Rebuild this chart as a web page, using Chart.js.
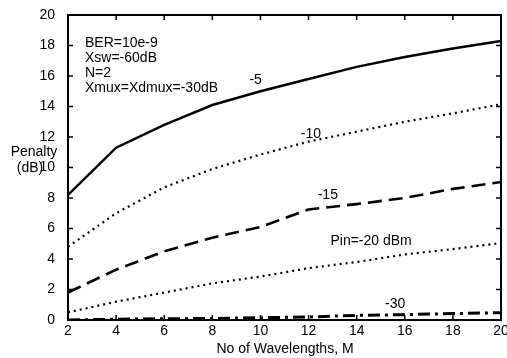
<!DOCTYPE html>
<html><head><meta charset="utf-8">
<script src="https://cdn.jsdelivr.net/npm/chart.js@4/dist/chart.umd.min.js"></script>
<style>html,body{margin:0;padding:0;background:#fff}#wrap{width:507px;height:358px;position:relative}</style>
</head><body><div id="wrap"><canvas id="c" width="507" height="358"></canvas></div>
<script>
const wavelengths = [2,4,6,8,10,12,14,16,18,20];
const pinM5  = [8.2,11.3,12.8,14.1,15.0,15.8,16.6,17.25,17.8,18.3];
const pinM10 = [4.8,7.0,8.7,9.9,10.85,11.7,12.35,13.0,13.55,14.15];
const pinM15 = [1.8,3.3,4.5,5.4,6.1,7.25,7.6,8.0,8.6,9.05];
const pinM20 = [0.5,1.2,1.8,2.4,2.85,3.4,3.8,4.3,4.65,5.05];
const pinM30 = [0.0,0.05,0.08,0.1,0.15,0.2,0.3,0.35,0.42,0.48];
const xTicks = [2,4,6,8,10,12,14,16,18,20];
const yTicks = [0,2,4,6,8,10,12,14,16,18,20];
const infoLines = ["BER=10e-9","Xsw=-60dB","N=2","Xmux=Xdmux=-30dB"];
const curveLabels = [["-5",9.8,15.75],["-10",12.1,12.2],["-15",12.8,8.2],["Pin=-20 dBm",14.6,5.2],["-30",15.6,1.05]];

const FONT = '"Liberation Sans", Arial, sans-serif';
const toPts = arr => arr.map((v,i)=>({x:wavelengths[i], y:v}));
function ds(data, width, dash){
  return {data: toPts(data), borderColor:'#000', borderWidth:width, borderDash:dash, pointRadius:0, fill:false, tension:0, borderCapStyle:'butt'};
}

const framePlugin = {
  id:'frame',
  afterDraw(chart){
    const ctx = chart.ctx, a = chart.chartArea, xs = chart.scales.x, ys = chart.scales.y;
    ctx.save();
    ctx.strokeStyle = '#000';
    ctx.lineWidth = 1.5;
    ctx.beginPath();
    xTicks.forEach(v=>{const p = xs.getPixelForValue(v); ctx.moveTo(p,a.top); ctx.lineTo(p,a.top+5); ctx.moveTo(p,a.bottom); ctx.lineTo(p,a.bottom-5);});
    yTicks.forEach(v=>{const p = ys.getPixelForValue(v); ctx.moveTo(a.left,p); ctx.lineTo(a.left+5,p); ctx.moveTo(a.right,p); ctx.lineTo(a.right-5,p);});
    ctx.stroke();
    ctx.lineWidth = 2;
    ctx.strokeRect(a.left, a.top, a.right-a.left, a.bottom-a.top);
    ctx.fillStyle = '#000';
    ctx.font = '14px ' + FONT;
    ctx.textBaseline = 'middle';
    ctx.textAlign = 'center';
    xTicks.forEach(v=>ctx.fillText(String(v), xs.getPixelForValue(v), 331));
    ctx.textAlign = 'left';
    infoLines.forEach((t,i)=>ctx.fillText(t, 85, 43 + i*15.2));
    curveLabels.forEach(([t,x,y])=>{
      ctx.textAlign = 'center';
      ctx.fillText(t, xs.getPixelForValue(x), ys.getPixelForValue(y));
    });
    ctx.textAlign = 'center';
    ctx.fillText('Penalty', 34, 152);
    ctx.fillText('(dB)', 30, 168);
    ctx.fillText('No of Wavelengths, M', 285, 349);
    ctx.restore();
  }
};

new Chart(document.getElementById('c'), {
  type:'line',
  data:{datasets:[
    ds(pinM5, 2.5, []),
    ds(pinM10, 2.2, [2,4]),
    ds(pinM15, 2.6, [14,7]),
    ds(pinM20, 2.2, [2,4]),
    ds(pinM30, 3, [12,5,3,5])
  ]},
  options:{
    responsive:false, animation:false, devicePixelRatio:1,
    layout:{padding:{left:0,top:15,right:6,bottom:0}},
    plugins:{legend:{display:false}, tooltip:{enabled:false}},
    scales:{
      x:{type:'linear', min:2, max:20,
        afterFit(s){s.height=38;},
        afterBuildTicks(s){s.ticks = xTicks.map(v=>({value:v}));},
        grid:{display:false}, border:{display:false},
        ticks:{display:false}
      },
      y:{type:'linear', min:0, max:20,
        afterFit(s){s.width=68;},
        afterBuildTicks(s){s.ticks = yTicks.map(v=>({value:v}));},
        grid:{display:false}, border:{display:false},
        ticks:{color:'#000', font:{size:14, family:FONT}, padding:5, autoSkip:false}
      }
    }
  },
  plugins:[framePlugin]
});
</script></body></html>
